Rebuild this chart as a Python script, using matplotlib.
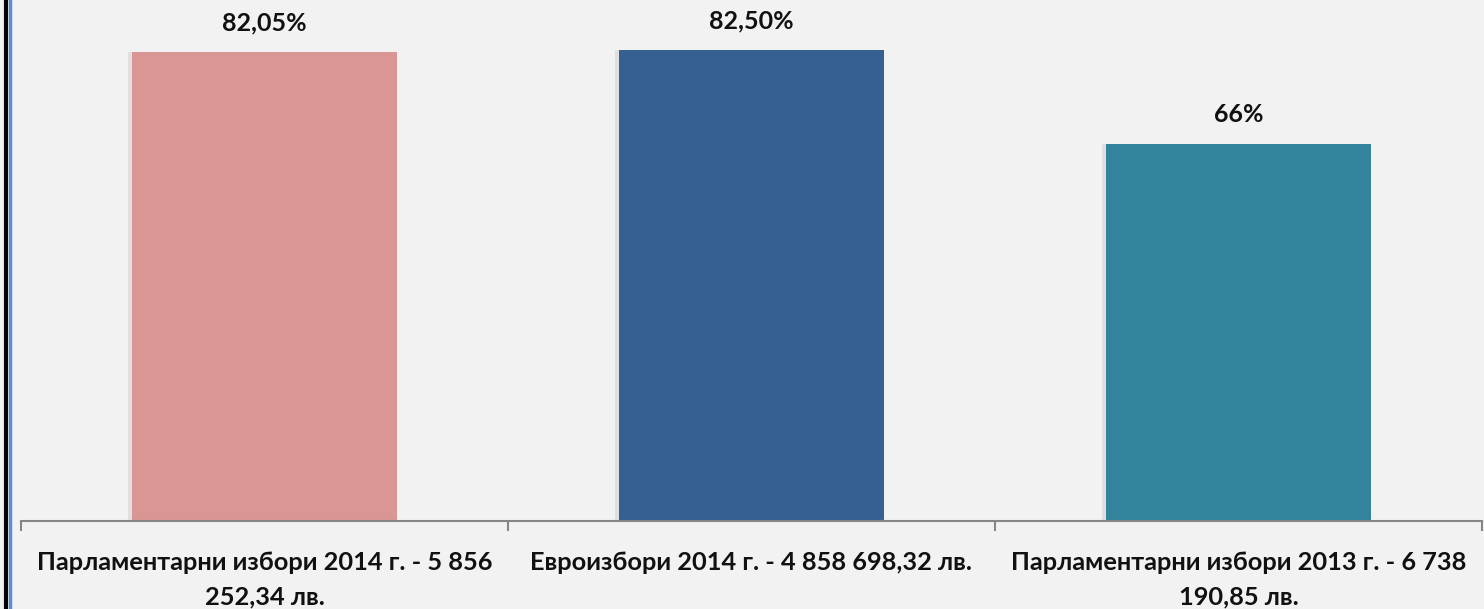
import matplotlib
matplotlib.use("Agg")
import matplotlib.pyplot as plt
from matplotlib.lines import Line2D

# data
categories = ["Парламентарни избори 2014 г. - 5 856\n252,34 лв.",
              "Евроизбори 2014 г. - 4 858 698,32 лв.",
              "Парламентарни избори 2013 г. - 6 738\n190,85 лв."]
values = [82.05, 82.50, 66.0]
value_labels = ["82,05%", "82,50%", "66%"]
colors = ["#d99694", "#376092", "#31849b"]

plt.rcParams['font.family'] = ['Lato', 'DejaVu Sans']
bg = "#f2f2f2"

fig = plt.figure(figsize=(14.84, 6.09), dpi=100, facecolor=bg)
ax = fig.add_axes([21/1484, 88/609, 1461/1484, 514/609])
ax.set_facecolor(bg)

x = range(len(values))
# soft shadow
ax.bar([i - 0.008 for i in x], values, width=0.545, color="#e0e0e0", zorder=1)
bars = ax.bar(x, values, width=0.545, color=colors, zorder=2)

for i, v in enumerate(values):
    ax.annotate(value_labels[i], (i, v), xytext=(0, 21), textcoords="offset points",
                ha="center", va="center", fontsize=18, fontweight="bold", color="#111111")

ax.set_xlim(-0.5, 2.5)
ax.set_ylim(0, 90)
ax.set_yticks([])
for s in ["top", "right", "left"]:
    ax.spines[s].set_visible(False)
ax.spines["bottom"].set_color("#868686")
ax.spines["bottom"].set_linewidth(1.5)

ax.set_xticks(list(x))
ax.set_xticklabels(categories, fontsize=18.3, fontweight="bold", color="#111111",
                   linespacing=1.6)
ax.tick_params(axis="x", which="major", length=0, pad=21.5)
ax.set_xticks([-0.5, 0.5, 1.5, 2.5], minor=True)
ax.tick_params(axis="x", which="minor", length=7, width=1.5, color="#868686")

# left border of the frame
fig.add_artist(Line2D([5.5/1484, 5.5/1484], [0, 1], color="black", lw=3, transform=fig.transFigure))
fig.add_artist(Line2D([9.5/1484, 9.5/1484], [0, 1], color="#5b8bd0", lw=2.5, transform=fig.transFigure))

plt.savefig("out.png", dpi=100, facecolor=bg)
